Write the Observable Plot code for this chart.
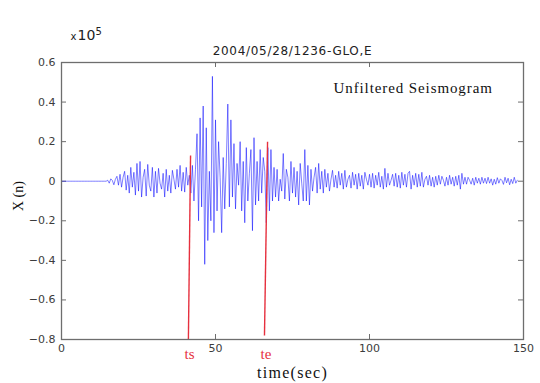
<!DOCTYPE html>
<html>
<head>
<meta charset="utf-8">
<script src="https://cdn.jsdelivr.net/npm/d3@7"></script>
<script src="https://cdn.jsdelivr.net/npm/@observablehq/plot@0.6"></script>
<style>
  html, body { margin: 0; padding: 0; background: #fff; }
  #chart svg { display: block; }
</style>
</head>
<body>
<div id="chart"></div>
<script>
// ---- data ----
const titleText = "2004/05/28/1236-GLO,E";
const annotationText = "Unfiltered Seismogram";
const xLabelText = "time(sec)";
const yLabelText = "X (n)";
const scaleBase = "10";
const scaleExp = "5";

const xTicks = [0, 50, 100, 150];
const yTicks = [-0.8, -0.6, -0.4, -0.2, 0, 0.2, 0.4, 0.6];
const yTickLabels = ["−0.8", "−0.6", "−0.4", "−0.2", "0", "0.2", "0.4", "0.6"];

// sampling of the seismogram (seconds)
const sampleStart = 0;
const sampleStep = 0.5;
// amplitude in units of 1e5, one value per sample
const amplitude = [
  0,0,0,0,0,0,0,0,0,0,
  0,0,0,0,0,0,0,0,0,0,
  0,0,0,0,0,0,0,0,0,0,
  0.005,-0.01,0.012,0.004,-0.018,0.01,0.025,-0.02,0.035,-0.03,
  0.02,0.05,-0.045,0.03,-0.06,0.07,-0.03,0.045,-0.07,0.09,
  -0.05,0.1,-0.08,0.02,0.06,-0.075,0.085,-0.02,-0.05,0.07,
  -0.08,0.05,-0.06,0.065,-0.01,-0.04,0.04,-0.08,0.06,-0.05,
  0.03,-0.06,0.055,0.01,-0.04,0.06,-0.03,0.08,-0.05,0.045,
  -0.055,0.07,-0.02,0.03,-0.06,0.08,-0.1,0.06,0.24,-0.2,
  0.32,-0.13,0.38,-0.42,0.27,-0.3,0.05,-0.2,0.53,-0.26,
  0.31,-0.15,0.2,0.02,-0.26,0.12,-0.14,0.09,0.39,-0.13,
  0.31,-0.08,0.19,-0.14,0.09,-0.02,0.2,-0.15,0.1,-0.21,
  0.17,-0.1,0.04,0.16,-0.25,0.22,-0.12,0.1,-0.1,0.16,
  -0.06,0.12,0.05,-0.21,0.17,-0.15,0.16,-0.1,0.07,-0.08,
  0.06,-0.1,0.01,-0.05,0.14,-0.09,0.06,0.02,-0.1,0.1,
  -0.06,0.07,-0.08,0.05,-0.12,0.09,-0.01,-0.1,0.16,-0.1,
  0.08,-0.12,0.06,-0.05,0.02,0.07,-0.06,0.09,-0.04,0.05,
  -0.06,0.06,-0.03,0.04,-0.05,0.01,0.055,-0.03,0.03,-0.035,
  0.05,-0.02,0.04,-0.04,0.055,-0.03,0.01,0.03,-0.035,0.045,
  -0.02,0.035,-0.04,0.04,-0.025,0.03,-0.04,0.045,0.01,-0.02,
  0.035,-0.03,0.04,-0.035,0.03,-0.02,0.045,-0.03,0.025,-0.04,
  0.065,-0.03,0.04,-0.02,0.005,0.035,-0.025,0.04,-0.03,0.03,
  -0.035,0.045,-0.02,0.035,-0.03,0.04,0.05,-0.04,0.03,-0.02,
  0.04,-0.03,0.035,-0.025,0.045,-0.03,0.01,0.025,-0.02,0.03,
  -0.025,0.02,-0.03,0.025,-0.02,0.03,-0.015,0.025,0.005,-0.025,
  0.02,-0.02,0.03,-0.015,0.02,-0.025,0.025,-0.02,0.03,-0.04,
  0.04,-0.015,0.02,-0.015,0.02,0.005,-0.015,0.015,-0.02,0.02,
  -0.01,0.015,-0.015,0.02,-0.01,0.015,-0.012,0.02,-0.01,0.012,
  -0.02,0.01,-0.015,0.018,-0.01,0.012,0.004,-0.016,0.02,-0.008,
  0.015,-0.018,0.01,-0.012,0.02,-0.01,0.005
];

// phase picks (red markers): name, time at bottom/top, value at bottom/top
const pickNames = ["ts", "te"];
const pickTimeBottom = [41.2, 65.9];
const pickTimeTop = [41.9, 66.9];
const pickValueBottom = [-0.8, -0.78];
const pickValueTop = [0.13, 0.2];

// ---- build tables ----
const wave = amplitude.map((v, i) => ({t: sampleStart + i * sampleStep, v}));
const picks = pickNames.map((name, i) => ({
  name,
  x1: pickTimeBottom[i], x2: pickTimeTop[i],
  y1: pickValueBottom[i], y2: pickValueTop[i],
  xl: (pickTimeBottom[i] + pickTimeTop[i]) / 2
}));

const W = 540, H = 383;
const mL = 61, mR = 17, mT = 62, mB = 44;
const innerW = W - mL - mR, innerH = H - mT - mB;
const axisGray = "#6e6e6e";
const labelGray = "#3c3c3c";
const red = "#e6303e";
const serif = "Liberation Serif";

const chart = Plot.plot({
  width: W, height: H,
  marginLeft: mL, marginRight: mR, marginTop: mT, marginBottom: mB,
  style: {fontFamily: "DejaVu Sans", fontSize: "11px", background: "white", color: labelGray},
  x: {domain: [0, 150]},
  y: {domain: [-0.8, 0.6]},
  marks: [
    // tick labels
    Plot.axisX(xTicks, {anchor: "bottom", tickSize: 0, tickPadding: 5, label: null, fill: labelGray, fontSize: 11}),
    Plot.axisY(yTicks, {anchor: "left", tickSize: 0, tickPadding: 6, label: null, fill: labelGray, fontSize: 11,
      tickFormat: d => yTickLabels[yTicks.indexOf(d)]}),
    // inward ticks on all four sides
    Plot.tickX(xTicks, {x: d => d, stroke: axisGray, insetTop: innerH - 5}),
    Plot.tickX(xTicks, {x: d => d, stroke: axisGray, insetBottom: innerH - 5}),
    Plot.tickY(yTicks, {y: d => d, stroke: axisGray, insetRight: innerW - 5}),
    Plot.tickY(yTicks, {y: d => d, stroke: axisGray, insetLeft: innerW - 5}),
    // waveform
    Plot.line(wave, {x: "t", y: "v", stroke: "#0000ff", strokeWidth: 0.6, strokeOpacity: 0.85}),
    // phase markers
    Plot.link(picks, {x1: "x1", x2: "x2", y1: "y1", y2: "y2", stroke: red, strokeWidth: 1.4}),
    Plot.text(picks, {x: "xl", text: "name", frameAnchor: "bottom", lineAnchor: "bottom", dy: 19,
      fill: red, fontFamily: serif, fontSize: 15}),
    Plot.frame({stroke: axisGray, strokeWidth: 1.3}),
    // texts
    Plot.text([titleText], {frameAnchor: "top", lineAnchor: "bottom", dy: -8, fill: "#222",
      fontFamily: "DejaVu Sans", fontSize: 12}),
    Plot.text(["x"], {frameAnchor: "top-left", textAnchor: "start", lineAnchor: "bottom", dx: 9, dy: -23,
      fill: "#222", fontSize: 10}),
    Plot.text([scaleBase], {frameAnchor: "top-left", textAnchor: "start", lineAnchor: "bottom", dx: 16, dy: -23,
      fill: "#222", fontSize: 14}),
    Plot.text([scaleExp], {frameAnchor: "top-left", textAnchor: "start", lineAnchor: "bottom", dx: 34, dy: -28,
      fill: "#222", fontSize: 10}),
    Plot.text([annotationText], {frameAnchor: "top-left", textAnchor: "start", lineAnchor: "bottom", dx: 272, dy: 30,
      fill: "#111", fontFamily: serif, fontSize: 15}),
    Plot.text([xLabelText], {frameAnchor: "bottom", lineAnchor: "bottom", dy: 38,
      fill: "#111", fontFamily: serif, fontSize: 16}),
    Plot.text([yLabelText], {frameAnchor: "left", lineAnchor: "middle", rotate: -90, dx: -43, dy: 10,
      fill: "#111", fontFamily: serif, fontSize: 14})
  ]
});

document.getElementById("chart").appendChild(chart);

// letter spacing to match the wide rendering of the original
const svg = d3.select(chart);
const spacing = {[titleText]: 0.7, [annotationText]: 0.9, [xLabelText]: 1.3};
svg.selectAll("text").each(function () {
  const s = spacing[this.textContent];
  if (s != null) d3.select(this).attr("letter-spacing", s);
});
</script>
</body>
</html>
